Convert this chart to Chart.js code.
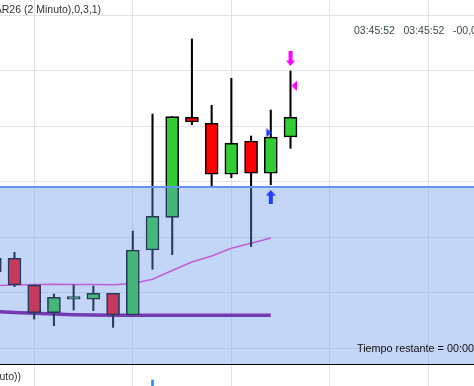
<!DOCTYPE html>
<html>
<head>
<meta charset="utf-8">
<script src="https://cdn.jsdelivr.net/npm/chart.js@4.4.1/dist/chart.umd.min.js"></script>
<style>
  html, body { margin: 0; padding: 0; background: #fff; overflow: hidden; }
  canvas { display: block; }
  #sep { height: 1px; background: #000; }
</style>
</head>
<body>
<canvas id="priceChart" width="474" height="364"></canvas>
<div id="sep"></div>
<canvas id="volChart" width="474" height="21"></canvas>
<script>
// 2 minute bars, oldest first (first one is cut by the left edge)
var opens  = [6881.85, 6883.08, 6880.68, 6878.18, 6879.41, 6879.39, 6879.93, 6877.97, 6883.83, 6886.77, 6895.78, 6895.24, 6890.65, 6893.65, 6890.74, 6894.01];
var highs  = [6883.11, 6883.62, 6880.68, 6879.86, 6880.68, 6880.59, 6879.93, 6885.54, 6896.08, 6895.84, 6902.84, 6896.86, 6899.30, 6894.10, 6896.44, 6899.95];
var lows   = [6881.85, 6880.52, 6877.61, 6877.01, 6878.42, 6878.36, 6876.86, 6877.97, 6882.09, 6883.41, 6895.12, 6889.45, 6890.34, 6884.13, 6889.71, 6892.99];
var closes = [6883.11, 6880.68, 6878.18, 6879.57, 6879.41, 6879.93, 6877.97, 6883.83, 6886.86, 6895.84, 6895.36, 6890.65, 6893.44, 6890.74, 6894.01, 6895.78];

// moving averages (stop one bar before the live bar)
var maFast = [6880.62, 6880.68, 6880.72, 6880.74, 6880.72, 6880.72, 6880.70, 6880.81, 6881.19, 6881.98, 6882.75, 6883.29, 6883.98, 6884.43, 6884.91];
var maSlow = [6878.29, 6878.20, 6878.13, 6878.06, 6878.00, 6877.97, 6877.95, 6877.95, 6877.95, 6877.95, 6877.95, 6877.95, 6877.95, 6877.95, 6877.95];

// signal markers
var signalBars   = [15, 15, 14, 14];
var signalPrices = [6901.08, 6898.63, 6894.39, 6888.60];
var signalKinds  = ['arrowDown', 'triLeft', 'triRight', 'arrowUp'];

// shaded zone below this price
var zoneTop = 6889.5;

// volume panel (only the top of one bar reaches the visible strip)
var volumes = [null, null, null, null, null, null, null, null, 1970, null, null, null, null, null, null, null];

var priceStep = 5;
var gridBars = [2, 7, 12, 17, 22];

var titleText = '(MESMAR26 (2 Minuto),0,3,1)';
var volTitle = '(MESMAR26 (2 Minuto))';
var timeLabels = ['03:45:52', '03:45:52', '-00,0'];
var remainText = 'Tiempo restante = 00:00';

var FONT = '10.5px "Liberation Sans", Arial, sans-serif';
var GRID = '#e3e3e3';
var UP = '#32cd32';
var DOWN = '#ff0000';

function markerImage(kind) {
    var c = document.createElement('canvas');
    var g;
    if (kind === 'arrowDown') {
        c.width = 9; c.height = 15;
        g = c.getContext('2d');
        g.fillStyle = '#ff00ff';
        g.fillRect(2.5, 0, 4, 10);
        g.beginPath(); g.moveTo(0, 9.5); g.lineTo(9, 9.5); g.lineTo(4.5, 15); g.closePath(); g.fill();
    } else if (kind === 'arrowUp') {
        c.width = 10; c.height = 14;
        g = c.getContext('2d');
        g.fillStyle = '#1f3cff';
        g.beginPath(); g.moveTo(5, 0); g.lineTo(10, 5.5); g.lineTo(0, 5.5); g.closePath(); g.fill();
        g.fillRect(3, 5, 4, 9);
    } else if (kind === 'triLeft') {
        c.width = 12; c.height = 10;
        g = c.getContext('2d');
        g.fillStyle = '#ff00ff';
        g.beginPath(); g.moveTo(7, 5); g.lineTo(12, 0); g.lineTo(12, 10); g.closePath(); g.fill();
    } else {
        c.width = 12; c.height = 9;
        g = c.getContext('2d');
        g.fillStyle = '#1f3cff';
        g.beginPath(); g.moveTo(1.5, 0); g.lineTo(7.2, 4.5); g.lineTo(1.5, 9); g.closePath(); g.fill();
    }
    return c;
}

function xScale() {
    return {
        type: 'linear',
        min: 0.2643,
        max: 24.308,
        offset: false,
        afterBuildTicks: function(axis) {
            axis.ticks = gridBars.map(function(v) { return { value: v }; });
        },
        ticks: { display: false },
        border: { display: false },
        grid: { color: GRID, drawTicks: false, offset: false }
    };
}

var zonePlugin = {
    id: 'zone',
    beforeDatasetDraw: function(chart, args) {
        if (args.index !== 0) return;
        var ctx = chart.ctx, area = chart.chartArea;
        var y = chart.scales.y.getPixelForValue(zoneTop);
        ctx.save();
        ctx.fillStyle = 'rgba(100,149,237,0.39)';
        ctx.fillRect(area.left, y, area.right - area.left, area.bottom - y);
        ctx.strokeStyle = '#6495ed';
        ctx.lineWidth = 2;
        ctx.beginPath();
        ctx.moveTo(area.left, y);
        ctx.lineTo(area.right, y);
        ctx.stroke();
        ctx.restore();
    },
    afterDraw: function(chart) {
        var ctx = chart.ctx;
        ctx.save();
        ctx.font = FONT;
        ctx.textBaseline = 'alphabetic';
        ctx.fillStyle = '#333';
        ctx.textAlign = 'right';
        ctx.fillText(titleText, 101, 13);
        ctx.textAlign = 'left';
        ctx.fillStyle = '#3a4a4a';
        ctx.fillText(timeLabels[0], 354, 34);
        ctx.fillText(timeLabels[1], 403.5, 34);
        ctx.fillText(timeLabels[2], 453, 34);
        ctx.fillStyle = '#111';
        ctx.font = '10.8px "Liberation Sans", Arial, sans-serif';
        ctx.fillText(remainText, 357, 352);
        ctx.restore();
    }
};

var candleBodies = opens.map(function(o, i) { return { x: i, y: [o, closes[i]] }; });
var candleWicks = highs.map(function(h, i) { return { x: i, y: [lows[i], h] }; });

new Chart(document.getElementById('priceChart'), {
    type: 'line',
    data: {
        datasets: [
            {
                // signals, drawn above the zone
                type: 'line',
                order: 0,
                showLine: false,
                data: signalBars.map(function(b, i) { return { x: b, y: signalPrices[i] }; }),
                pointStyle: signalKinds.map(markerImage),
                pointRadius: 5
            },
            {
                type: 'bar',
                order: 1,
                grouped: false,
                data: candleBodies,
                backgroundColor: opens.map(function(o, i) { return closes[i] >= o ? UP : DOWN; }),
                borderColor: '#000',
                borderWidth: 1.6,
                borderSkipped: false,
                barThickness: 13,
                minBarLength: 2.5
            },
            {
                type: 'bar',
                order: 2,
                grouped: false,
                data: candleWicks,
                backgroundColor: '#000',
                borderWidth: 0,
                barThickness: 1.4
            },
            {
                type: 'line',
                order: 3,
                data: maFast.map(function(v, i) { return { x: i, y: v }; }),
                borderColor: 'rgb(250,60,200)',
                borderWidth: 1.5,
                pointRadius: 0,
                tension: 0
            },
            {
                type: 'line',
                order: 4,
                data: maSlow.map(function(v, i) { return { x: i, y: v }; }),
                borderColor: 'rgb(128,0,140)',
                borderWidth: 3.5,
                pointRadius: 0,
                tension: 0
            }
        ]
    },
    options: {
        responsive: false,
        animation: false,
        events: [],
        layout: { padding: 0, autoPadding: false },
        plugins: { legend: { display: false }, tooltip: { enabled: false } },
        scales: {
            x: xScale(),
            y: {
                type: 'linear',
                min: 6873.5586,
                max: 6906.3514,
                ticks: { display: false, stepSize: priceStep, includeBounds: false },
                border: { display: false },
                grid: { color: GRID, drawTicks: false }
            }
        }
    },
    plugins: [zonePlugin]
});

new Chart(document.getElementById('volChart'), {
    type: 'bar',
    data: {
        datasets: [{
            grouped: false,
            data: volumes.map(function(v, i) { return { x: i, y: v }; }),
            backgroundColor: '#1e90ff',
            barThickness: 2
        }]
    },
    options: {
        responsive: false,
        animation: false,
        events: [],
        layout: { padding: 0, autoPadding: false },
        plugins: { legend: { display: false }, tooltip: { enabled: false } },
        scales: {
            x: xScale(),
            y: { display: false, min: 1800, max: 2400 }
        }
    },
    plugins: [{
        id: 'volTitle',
        afterDraw: function(chart) {
            var ctx = chart.ctx;
            ctx.save();
            ctx.font = FONT;
            ctx.fillStyle = '#333';
            ctx.textAlign = 'right';
            ctx.fillText(volTitle, 21, 15);
            ctx.restore();
        }
    }]
});
</script>
</body>
</html>
